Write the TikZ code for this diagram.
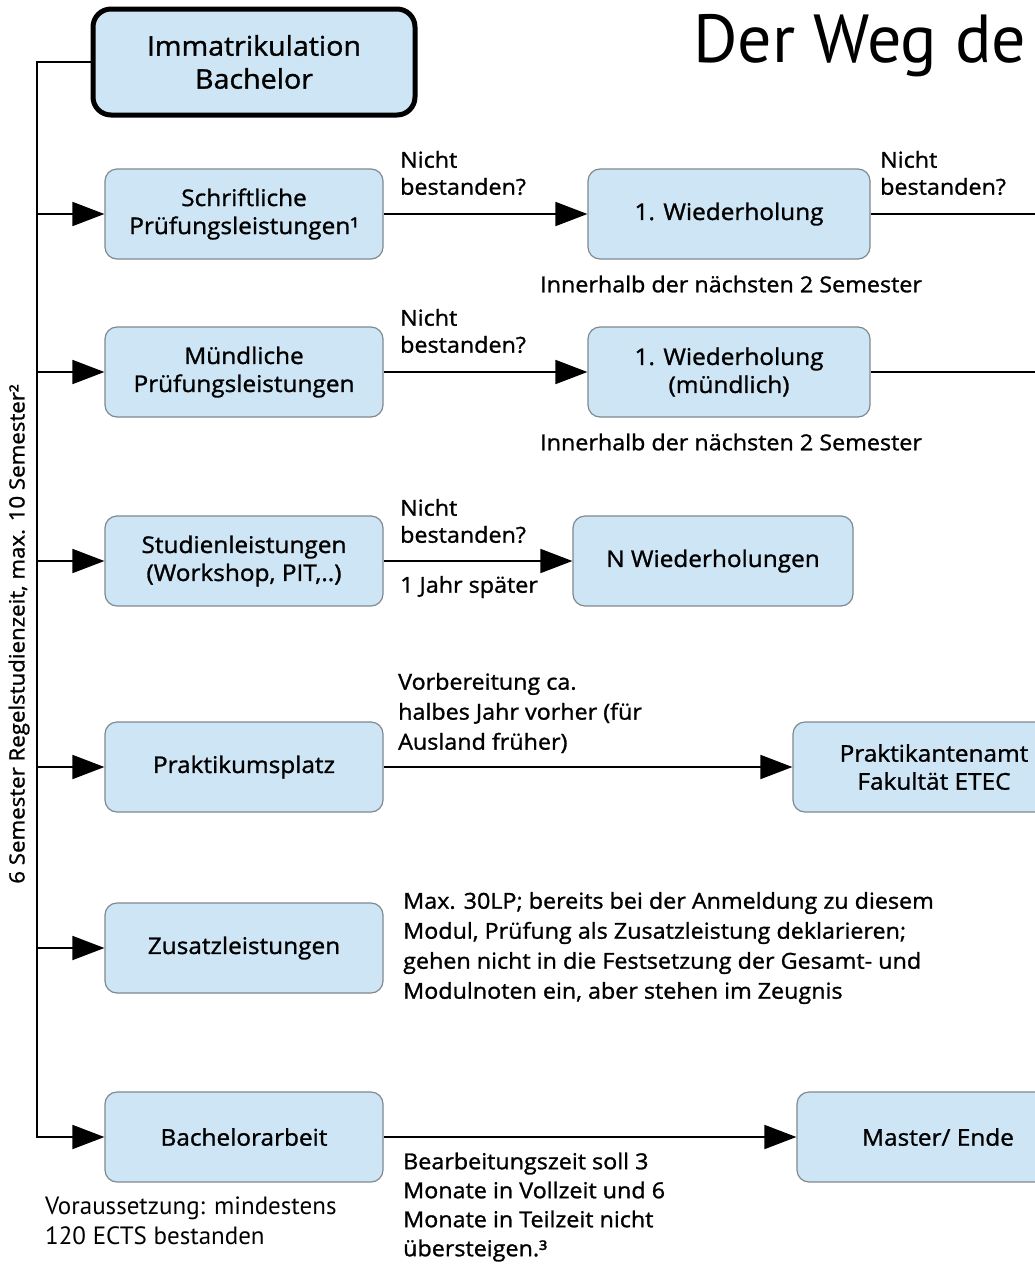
\documentclass[tikz,border=0pt]{standalone}
\usepackage{fontspec}
\setmainfont{Open Sans}[FakeStretch=1.06, FakeBold=1.2]
\newfontfamily\myriad{PT Sans}
\usetikzlibrary{arrows.meta}
\definecolor{boxblue}{HTML}{CDE5F4}
\definecolor{boxline}{HTML}{7F8A90}
\newcommand\bfnt{\fontsize{23}{28}\selectfont}
\newcommand\lfnt{\fontsize{22}{27}\selectfont}
\begin{document}
\begin{tikzpicture}[x=1pt,y=-1pt,
  box/.style={draw=boxline, line width=1.2pt, fill=boxblue, rounded corners=12pt,
    minimum width=278pt, minimum height=90pt, align=center, font=\bfnt, inner sep=2pt},
  imm/.style={box, draw=black, line width=5pt, rounded corners=18pt,
    minimum width=322pt, minimum height=106pt, font=\fontsize{27}{33}\selectfont},
  lbl/.style={align=left, font=\lfnt, inner sep=0pt},
  conn/.style={line width=1.8pt},
  arr/.style={conn, -{Triangle[length=32pt,width=24pt]}},
]
\useasboundingbox (0,0) rectangle (1035,1267);
\clip (0,0) rectangle (1035,1267);
\fill[white] (0,0) rectangle (1035,1267);

% title
\node[font=\myriad\fontsize{68}{80}\selectfont, anchor=base west, inner sep=0pt] (title) at (693,62) {Der Weg de};

% boxes
\node[imm] (imm) at (254,62) {Immatrikulation\\Bachelor};
\node[box] (s1) at (244,214) {Schriftliche\\Prüfungsleistungen¹};
\node[box] (m1) at (244,372) {Mündliche\\Prüfungsleistungen};
\node[box] (st) at (244,561) {Studienleistungen\\(Workshop, PIT,..)};
\node[box] (pp) at (244,767) {Praktikumsplatz};
\node[box] (zu) at (244,948) {Zusatzleistungen};
\node[box] (ba) at (244,1137) {Bachelorarbeit};
\node[box, minimum width=282pt] (w1) at (729,214) {1. Wiederholung};
\node[box, minimum width=282pt] (w2) at (729,372) {1. Wiederholung\\(mündlich)};
\node[box, minimum width=280pt] (nw) at (713,561) {N Wiederholungen};
\node[box, minimum width=282pt] (pa) at (934,767) {Praktikantenamt\\Fakultät ETEC};
\node[box, minimum width=282pt] (me) at (938,1137) {Master/ Ende};

% trunk
\coordinate (top) at (37,62);
\coordinate (r1) at (37,214);
\coordinate (r2) at (37,372);
\coordinate (r3) at (37,561);
\coordinate (r4) at (37,767);
\coordinate (r5) at (37,948);
\coordinate (r6) at (37,1137);
\draw[arr] (imm.west) -- (top) -- (r6) -- (ba);
\draw[arr] (r1) -- (s1);
\draw[arr] (r2) -- (m1);
\draw[arr] (r3) -- (st);
\draw[arr] (r4) -- (pp);
\draw[arr] (r5) -- (zu);

% horizontal connectors
\draw[arr] (s1) -- (w1);
\draw[arr] (m1) -- (w2);
\draw[arr] (st) -- (nw);
\draw[arr] (pp) -- (pa);
\draw[arr] (ba) -- (me);
\coordinate (x1) at (1040,214);
\coordinate (x2) at (1040,372);
\draw[conn] (w1) -- (x1);
\draw[conn] (w2) -- (x2);

% labels
\node[lbl, anchor=west] (l1) at (400,173) {Nicht\\bestanden?};
\node[lbl, anchor=west] (l2) at (880,173) {Nicht\\bestanden?};
\node[lbl, anchor=west] (l3) at (400,331) {Nicht\\bestanden?};
\node[lbl, anchor=west] (l4) at (400,521) {Nicht\\bestanden?};
\node[lbl, anchor=west] (l5) at (400,587) {1 Jahr später};
\node[lbl, anchor=west] (i1) at (540,284) {Innerhalb der nächsten 2 Semester};
\node[lbl, anchor=west] (i2) at (540,442) {Innerhalb der nächsten 2 Semester};
\node[lbl, anchor=west, font=\fontsize{22}{30}\selectfont] (pv) at (398,713) {Vorbereitung ca.\\halbes Jahr vorher (für\\Ausland früher)};
\node[lbl, anchor=west, font=\fontsize{22}{30}\selectfont] (zt) at (403,948) {Max. 30LP; bereits bei der Anmeldung zu diesem\\Modul, Prüfung als Zusatzleistung deklarieren;\\gehen nicht in die Festsetzung der Gesamt- und\\Modulnoten ein, aber stehen im Zeugnis};
\node[lbl, anchor=west, font=\fontsize{22}{29}\selectfont] (bt) at (403,1207) {Bearbeitungszeit soll 3\\Monate in Vollzeit und 6\\Monate in Teilzeit nicht\\übersteigen.³};
\node[lbl, anchor=west, font=\myriad\fontsize{25}{30}\selectfont] (vo) at (45,1221) {Voraussetzung: mindestens\\120 ECTS bestanden};
\node[lbl, rotate=90, font=\fontsize{21}{24}\selectfont] (vt) at (19,634) {6 Semester Regelstudienzeit, max. 10 Semester²};
\end{tikzpicture}
\end{document}
